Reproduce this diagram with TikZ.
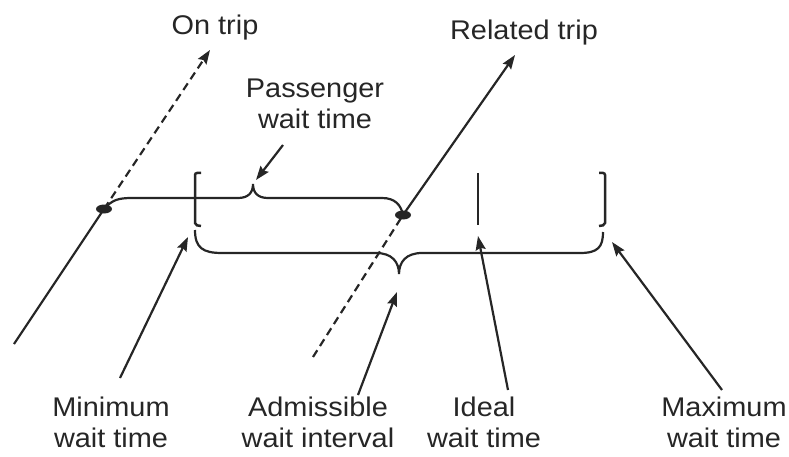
\documentclass[tikz,border=0pt]{standalone}
\usepackage{fontspec}
\setmainfont{Liberation Sans}[FakeStretch=1.07]
\usetikzlibrary{arrows.meta}

\tikzset{
    lbl/.style={align=center, font=\fontsize{27}{31}\selectfont, text=black!85, inner sep=0pt},
    ln/.style={line width=2.2pt, black!85},
    arr/.style={ln, -{Stealth[length=14pt, width=10pt, inset=2pt]}},
    dsh/.style={dash pattern=on 8pt off 5pt},
}

\begin{document}
\begin{tikzpicture}[x=1pt, y=-1pt]
        \useasboundingbox (0,0) rectangle (789,457);

        % labels
        \node[lbl] (ontrip) at (215,28) {On trip};
        \node[lbl] (related) at (524,33) {Related trip};
        \node[lbl] (passenger) at (315,104) {Passenger\\wait time};
        \node[lbl] (minimum) at (111,422) {Minimum\\wait time};
        \node[lbl] (admissible) at (318,422) {Admissible\\wait interval};
        \node[lbl] (ideal) at (484,422) {Ideal\\wait time};
        \node[lbl] (maximum) at (724,422) {Maximum\\wait time};

        % points
        \coordinate (dotA) at (104,209);
        \coordinate (dotB) at (403,215);
        \coordinate (ontriptip) at (210,50);
        \coordinate (relatedtip) at (515,55);
        \coordinate (pastail) at (283,145);
        \coordinate (pastip) at (256,180);
        \coordinate (intail) at (14,344);
        \coordinate (outtail) at (313,357);
        \coordinate (mintail) at (120,378);
        \coordinate (mintip) at (188,237);
        \coordinate (admtail) at (358,395);
        \coordinate (admtip) at (397,292);
        \coordinate (idetail) at (508,390);
        \coordinate (idetip) at (478,236);
        \coordinate (maxtail) at (722,390);
        \coordinate (maxtip) at (612,242);

        % trips
        \draw[ln] (intail) -- (dotA);
        \draw[arr, dsh] (dotA) -- (ontriptip);
        \draw[ln, dsh] (outtail) -- (dotB);
        \draw[arr] (dotB) -- (relatedtip);

        % brackets
        \draw[ln, line width=2.5pt, rounded corners=2pt]
            (201,173) -- (195,173) -- (195,225) -- (201,226)
            (599,173) -- (605,173) -- (605,225) -- (599,226);
        \draw[ln, line width=2.5pt] (478,173) -- (478,225);

        % braces
        \draw[ln]
            (dotA) .. controls (112,200) and (118,198) .. (132,198)
            -- (238,198) .. controls (248,198) and (253,193) .. (253,184)
            .. controls (253,193) and (258,198) .. (268,198)
            -- (382,198) .. controls (395,198) and (401,205) .. (dotB);
        \draw[ln]
            (195,230) .. controls (195,248) and (203,253) .. (222,253)
            -- (376,253) .. controls (392,253) and (399,262) .. (399,274)
            .. controls (399,262) and (406,253) .. (422,253)
            -- (580,253) .. controls (598,253) and (603,247) .. (603,232);

        \fill[black!85] (dotA) ellipse [x radius=8pt, y radius=4.5pt];
        \fill[black!85] (dotB) ellipse [x radius=8pt, y radius=4.5pt];

        % pointers
        \draw[arr] (pastail) -- (pastip);
        \draw[arr] (mintail) -- (mintip);
        \draw[arr] (admtail) -- (admtip);
        \draw[arr] (idetail) -- (idetip);
        \draw[arr] (maxtail) -- (maxtip);

    \end{tikzpicture}
\end{document}
